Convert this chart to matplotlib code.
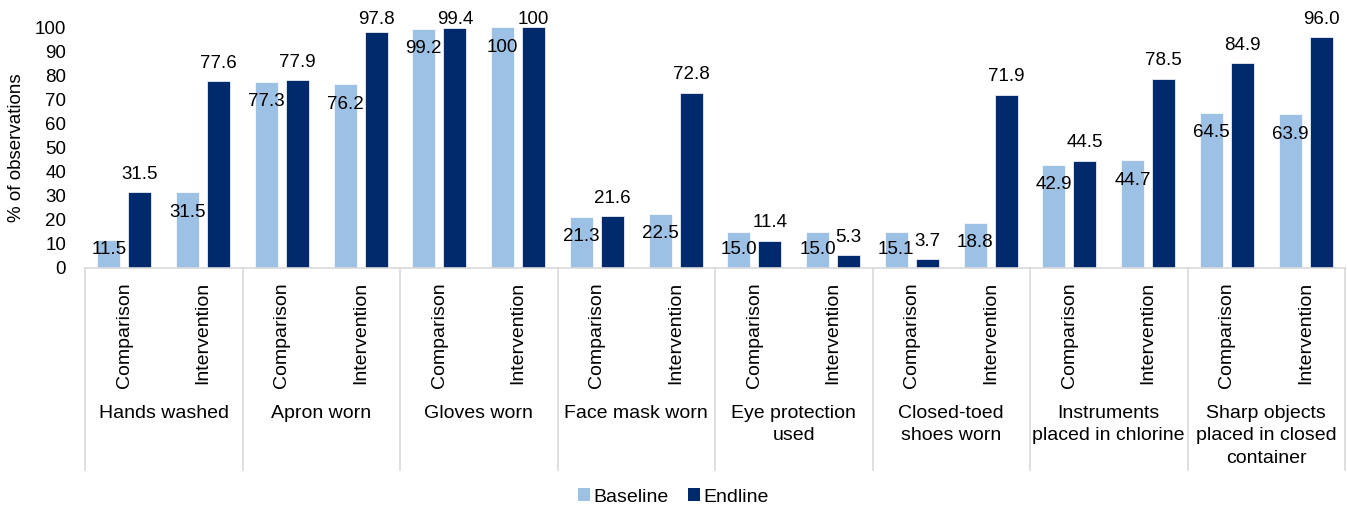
import matplotlib
matplotlib.use("Agg")
import matplotlib.pyplot as plt
from matplotlib.patches import Patch
from matplotlib.lines import Line2D
import matplotlib.transforms as mtransforms
import numpy as np

plt.rcParams['font.family'] = ['Liberation Sans', 'DejaVu Sans']

categories = ["Hands washed", "Apron worn", "Gloves worn", "Face mask worn",
              "Eye protection\nused", "Closed-toed\nshoes worn",
              "Instruments\nplaced in chlorine", "Sharp objects\nplaced in closed\ncontainer"]
arms = ["Comparison", "Intervention"]
baseline = [11.5, 31.5, 77.3, 76.2, 99.2, 100, 21.3, 22.5,
            15.0, 15.0, 15.1, 18.8, 42.9, 44.7, 64.5, 63.9]
endline = [31.5, 77.6, 77.9, 97.8, 99.4, 100, 21.6, 72.8,
           11.4, 5.3, 3.7, 71.9, 44.5, 78.5, 84.9, 96.0]
baseline_labels = ["11.5", "31.5", "77.3", "76.2", "99.2", "100", "21.3", "22.5",
                   "15.0", "15.0", "15.1", "18.8", "42.9", "44.7", "64.5", "63.9"]
endline_labels = ["31.5", "77.6", "77.9", "97.8", "99.4", "100", "21.6", "72.8",
                  "11.4", "5.3", "3.7", "71.9", "44.5", "78.5", "84.9", "96.0"]
yticks = list(range(0, 101, 10))

c_base = '#9dc0e5'
c_end = '#002a6b'

W, H = 1347, 507
fig = plt.figure(figsize=(W / 100, H / 100), dpi=100)
ax_l, ax_r, ax_b, ax_t = 85, 1345, 268, 27
ax = fig.add_axes([ax_l / W, (H - ax_b) / H, (ax_r - ax_l) / W, (ax_b - ax_t) / H])
ax_h = ax_b - ax_t

n = len(baseline)
x = np.arange(n)
bw = 0.292
off = 0.197
ax.bar(x - off, baseline, width=bw, color=c_base, edgecolor='white', linewidth=0.5, zorder=2)
ax.bar(x + off, endline, width=bw, color=c_end, edgecolor='white', linewidth=0.5, zorder=2)

ax.set_xlim(-0.5, n - 0.5)
ax.set_ylim(0, 100)
ax.set_yticks(yticks)
ax.set_yticklabels([str(t) for t in yticks], fontsize=13.5, color='#000000')
ax.tick_params(axis='y', length=0, pad=13.5)
ax.set_xticks([])
for s in ['left', 'right', 'top']:
    ax.spines[s].set_visible(False)
ax.spines['bottom'].set_color('#d9d9d9')
ax.spines['bottom'].set_linewidth(1.2)

# data labels
for i in range(n):
    yb = max(baseline[i] - 8.3, 7.5)
    ax.text(x[i] - off, yb, baseline_labels[i], ha='center', va='center',
            fontsize=13.5, color='#000000', zorder=3)
    ye = min(endline[i] + 7.4, 103)
    ax.text(x[i] + off, ye, endline_labels[i], ha='center', va='center',
            fontsize=13.5, color='#000000', zorder=3, clip_on=False)

trans = mtransforms.blended_transform_factory(ax.transData, ax.transAxes)
# arm labels
for i in range(n):
    ax.text(x[i], -14 / ax_h, arms[i % 2], rotation=90, ha='center', va='top',
            fontsize=14, transform=trans, color='#000000')
# category labels
for g, cat in enumerate(categories):
    ax.text(2 * g + 0.5, -137 / ax_h, cat, ha='center', va='top', fontsize=14,
            transform=trans, linespacing=1.42, color='#000000', multialignment='center')
# separators
for g in range(len(categories) + 1):
    xs = 2 * g - 0.5
    ax.add_line(Line2D([xs, xs], [0, -(470 - 268) / ax_h], transform=trans,
                       color='#d9d9d9', linewidth=1.2, clip_on=False))

fig.text(17 / W, 1 - ((ax_t + ax_b) / 2) / H, "% of observations", rotation=90,
         ha='center', va='center', fontsize=13.5, color='#000000')

handles = [Patch(facecolor=c_base, label='Baseline'), Patch(facecolor=c_end, label='Endline')]
fig.legend(handles=handles, loc='center', bbox_to_anchor=(0.5, 1 - 497 / H), ncol=2,
           frameon=False, fontsize=14, handlelength=0.6, handleheight=0.6,
           handletextpad=0.2, columnspacing=1.0, borderpad=0, borderaxespad=0)

fig.savefig("out.png", dpi=100)
